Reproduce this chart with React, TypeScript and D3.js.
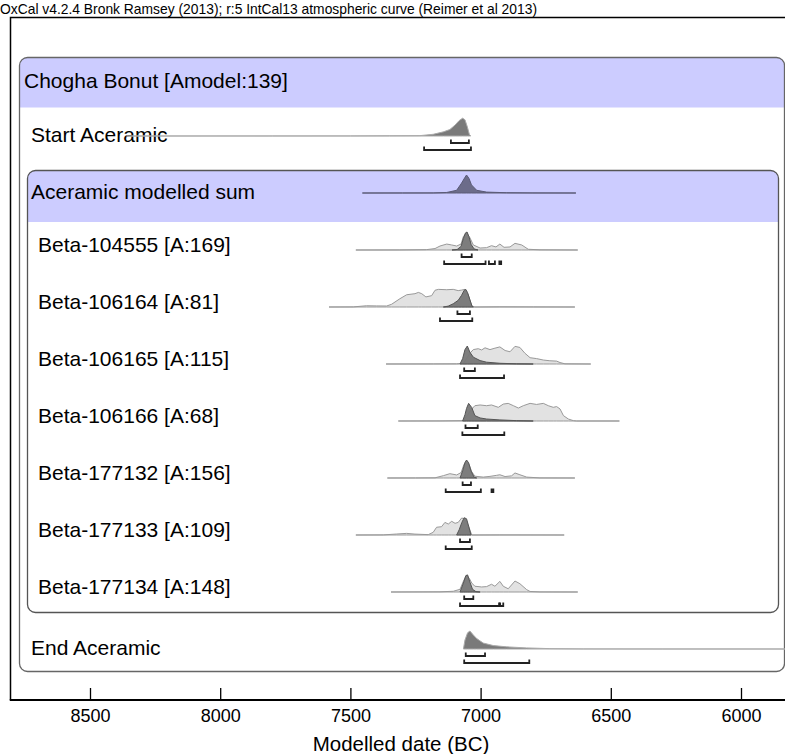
import React, { useRef, useEffect } from 'react';
import * as d3 from 'd3';

// header / axis text
const headerText = 'OxCal v4.2.4 Bronk Ramsey (2013); r:5 IntCal13 atmospheric curve (Reimer et al 2013)';
const axisTitle = 'Modelled date (BC)';
const tickValues = [8500, 8000, 7500, 7000, 6500, 6000];

// [year BC, relative density]
const startAceramic = [[8360, 0], [7800, 0.003], [7500, 0.006], [7350, 0.012], [7233, 0.02], [7182, 0.095], [7143, 0.23], [7118, 0.36], [7098, 0.61], [7082, 0.86], [7069, 0.99], [7060, 0.9], [7051, 0.51], [7043, 0.08], [7038, 0]];
const aceramicSum = [[7454, 0], [7300, 0.002], [7182, 0.005], [7130, 0.03], [7092, 0.15], [7073, 0.55], [7060, 0.87], [7054, 1], [7045, 0.82], [7035, 0.45], [7015, 0.15], [6977, 0.05], [6900, 0.015], [6799, 0.005], [6634, 0]];

const beta104555Like = [[7479, 0], [7310, 0.003], [7207, 0.02], [7175, 0.08], [7156, 0.22], [7130, 0.33], [7111, 0.28], [7092, 0.22], [7075, 0.33], [7066, 0.75], [7054, 0.96], [7041, 0.68], [7028, 0.28], [7002, 0.11], [6977, 0.13], [6958, 0.24], [6941, 0.17], [6926, 0.33], [6910, 0.15], [6887, 0.17], [6868, 0.37], [6842, 0.28], [6817, 0.04], [6772, 0.01], [6627, 0]];
const beta104555Post = [[7110, 0], [7090, 0.03], [7075, 0.2], [7066, 0.65], [7058, 0.95], [7052, 1], [7045, 0.75], [7036, 0.3], [7025, 0.06], [7010, 0]];

const beta106164Like = [[7582, 0], [7489, 0.005], [7438, 0.07], [7399, 0.06], [7361, 0.055], [7342, 0.15], [7310, 0.46], [7284, 0.68], [7252, 0.74], [7239, 0.81], [7226, 0.74], [7210, 0.56], [7188, 0.63], [7175, 0.93], [7162, 0.98], [7130, 0.96], [7105, 0.98], [7086, 0.91], [7073, 0.94], [7060, 0.98], [7047, 0.65], [7034, 0.06], [7022, 0], [6926, 0.01], [6798, 0.005], [6638, 0]];
const beta106164Post = [[7143, 0], [7124, 0.05], [7105, 0.18], [7086, 0.37], [7073, 0.65], [7063, 0.93], [7057, 0.98], [7050, 0.8], [7041, 0.4], [7033, 0.05], [7028, 0]];

const beta106165Like = [[7363, 0], [7182, 0.005], [7092, 0.01], [7066, 0.04], [7054, 0.3], [7041, 0.6], [7028, 0.8], [7009, 0.85], [6996, 0.78], [6983, 0.9], [6964, 0.8], [6945, 0.88], [6926, 0.95], [6906, 0.75], [6887, 0.68], [6868, 0.98], [6849, 0.92], [6830, 0.6], [6810, 0.35], [6785, 0.3], [6759, 0.22], [6734, 0.18], [6708, 0.16], [6695, 0.08], [6676, 0.01], [6577, 0]];
const beta106165Post = [[7079, 0], [7069, 0.3], [7060, 0.8], [7051, 1], [7041, 0.65], [7028, 0.38], [7002, 0.19], [6977, 0.1], [6926, 0.04], [6862, 0.01], [6798, 0]];

const beta106166Like = [[7316, 0], [7156, 0.005], [7066, 0.02], [7054, 0.25], [7038, 0.6], [7022, 0.85], [7002, 0.89], [6977, 0.85], [6958, 0.89], [6932, 0.76], [6913, 0.94], [6894, 0.98], [6874, 0.85], [6855, 0.72], [6836, 0.85], [6810, 0.98], [6785, 0.92], [6759, 0.98], [6740, 0.85], [6721, 0.76], [6708, 0.8], [6695, 0.67], [6682, 0.3], [6663, 0.11], [6644, 0.02], [6631, 0], [6467, 0]];
const beta106166Post = [[7069, 0], [7060, 0.35], [7054, 0.7], [7046, 0.98], [7034, 0.75], [7022, 0.3], [7002, 0.17], [6977, 0.11], [6926, 0.06], [6862, 0.02], [6798, 0]];

const beta177132Like = [[7358, 0], [7250, 0.003], [7175, 0.01], [7143, 0.13], [7118, 0.24], [7092, 0.17], [7075, 0.3], [7064, 0.75], [7054, 0.98], [7043, 0.7], [7034, 0.35], [7022, 0.1], [6990, 0.05], [6964, 0.09], [6938, 0.15], [6926, 0.18], [6906, 0.08], [6881, 0.12], [6868, 0.28], [6849, 0.18], [6823, 0.05], [6772, 0.005], [6638, 0]];
const beta177132Post = [[7079, 0], [7069, 0.4], [7060, 0.85], [7054, 1], [7046, 0.85], [7037, 0.4], [7025, 0.05], [7015, 0]];

const beta177133Like = [[7479, 0], [7374, 0.005], [7322, 0.055], [7284, 0.09], [7252, 0.05], [7201, 0.02], [7182, 0.15], [7169, 0.43], [7150, 0.46], [7137, 0.7], [7124, 0.61], [7111, 0.76], [7098, 0.65], [7086, 0.7], [7073, 0.94], [7064, 0.92], [7054, 0.7], [7043, 0.35], [7034, 0], [6926, 0.005], [6679, 0]];
const beta177133Post = [[7092, 0], [7082, 0.3], [7072, 0.7], [7063, 0.96], [7054, 0.9], [7045, 0.45], [7037, 0]];

const beta177134Like = [[7344, 0], [7156, 0.01], [7105, 0.04], [7079, 0.15], [7066, 0.6], [7054, 0.95], [7043, 0.75], [7034, 0.5], [7022, 0.32], [6996, 0.28], [6977, 0.3], [6958, 0.43], [6945, 0.32], [6926, 0.59], [6913, 0.32], [6894, 0.18], [6868, 0.61], [6849, 0.46], [6823, 0.13], [6810, 0.03], [6772, 0.005], [6627, 0]];
const beta177134Post = [[7079, 0], [7066, 0.5], [7057, 0.9], [7050, 0.95], [7041, 0.55], [7031, 0.15], [7018, 0.02], [7002, 0]];

const endAceramic = [[7066, 0], [7060, 0.5], [7050, 0.9], [7041, 1], [7028, 0.78], [7015, 0.58], [6990, 0.33], [6951, 0.19], [6900, 0.12], [6823, 0.06], [6734, 0.02], [6606, 0.005], [6300, 0.001], [5700, 0]];

// highest posterior density ranges [from, to]
const start68 = [[7114, 7045]];
const start95 = [[7217, 7037]];
const beta104555_68 = [[7073, 7034]];
const beta104555_95 = [[7140, 6981], [6968, 6945], [6928, 6921]];
const beta106164_68 = [[7089, 7041]];
const beta106164_95 = [[7156, 7032]];
const beta106165_68 = [[7063, 7022]];
const beta106165_95 = [[7079, 6910]];
const beta106166_68 = [[7058, 7011]];
const beta106166_95 = [[7070, 6909]];
const beta177132_68 = [[7069, 7037]];
const beta177132_95 = [[7134, 6999], [6958, 6951]];
const beta177133_68 = [[7079, 7041]];
const beta177133_95 = [[7134, 7034]];
const beta177134_68 = [[7063, 7028]];
const beta177134_95 = [[7079, 6929], [6925, 6913]];
const end68 = [[7057, 6983]];
const end95 = [[7063, 6813]];

const rows = [
    { label: 'Start Aceramic', kind: 'boundary', post: startAceramic, r68: start68, r95: start95 },
    { label: 'Aceramic modelled sum', kind: 'sum', post: aceramicSum, r68: [], r95: [] },
    { label: 'Beta-104555 [A:169]', kind: 'date', like: beta104555Like, post: beta104555Post, r68: beta104555_68, r95: beta104555_95 },
    { label: 'Beta-106164 [A:81]', kind: 'date', like: beta106164Like, post: beta106164Post, r68: beta106164_68, r95: beta106164_95 },
    { label: 'Beta-106165 [A:115]', kind: 'date', like: beta106165Like, post: beta106165Post, r68: beta106165_68, r95: beta106165_95 },
    { label: 'Beta-106166 [A:68]', kind: 'date', like: beta106166Like, post: beta106166Post, r68: beta106166_68, r95: beta106166_95 },
    { label: 'Beta-177132 [A:156]', kind: 'date', like: beta177132Like, post: beta177132Post, r68: beta177132_68, r95: beta177132_95 },
    { label: 'Beta-177133 [A:109]', kind: 'date', like: beta177133Like, post: beta177133Post, r68: beta177133_68, r95: beta177133_95 },
    { label: 'Beta-177134 [A:148]', kind: 'date', like: beta177134Like, post: beta177134Post, r68: beta177134_68, r95: beta177134_95 },
    { label: 'End Aceramic', kind: 'boundary', post: endAceramic, r68: end68, r95: end95 },
];
const groupLabel = 'Chogha Bonut [Amodel:139]';

const FONT = 'Liberation Sans, Arial, sans-serif';

function topRounded(x: number, y: number, w: number, h: number, r: number) {
    return `M${x},${y + h}V${y + r}Q${x},${y} ${x + r},${y}H${x + w - r}Q${x + w},${y} ${x + w},${y + r}V${y + h}Z`;
}

export default function App() {
    const svgRef = useRef<SVGSVGElement>(null);

    useEffect(() => {
        const width = 785;
        const height = 754;
        const frame = { left: 10.5, top: 17.5, bottom: 700 };

        const svg = d3.select(svgRef.current)
            .attr('width', width)
            .attr('height', height)
            .attr('viewBox', [0, 0, width, height].join(' '));
        svg.selectAll('*').remove();

        const x = d3.scaleLinear().domain([8500, 6000]).range([90, 741]);
        const rowY = d3.scaleLinear().domain([0, 9]).range([136, 649]);
        const dens = d3.scaleLinear().domain([0, 1]).range([0, 18]);

        svg.append('text')
            .attr('x', 0).attr('y', 13.5)
            .attr('font-family', FONT).attr('font-size', 15)
            .attr('textLength', 537).attr('lengthAdjust', 'spacingAndGlyphs')
            .text(headerText);

        // outer group box
        const outer = { x: 19.5, y: 57.5, w: 765, h: 614 };
        svg.append('rect').attr('x', outer.x).attr('y', outer.y).attr('width', outer.w).attr('height', outer.h)
            .attr('rx', 8).attr('fill', '#fff');
        svg.append('path').attr('d', topRounded(outer.x, outer.y, outer.w, 50, 8)).attr('fill', '#ccccff');
        svg.append('rect').attr('x', outer.x).attr('y', outer.y).attr('width', outer.w).attr('height', outer.h)
            .attr('rx', 8).attr('fill', 'none').attr('stroke', '#666').attr('stroke-width', 1.3);

        // inner sum box
        const inner = { x: 27.5, y: 170.5, w: 751, h: 442 };
        svg.append('path').attr('d', topRounded(inner.x, inner.y, inner.w, 51.5, 8)).attr('fill', '#ccccff');
        svg.append('rect').attr('x', inner.x).attr('y', inner.y).attr('width', inner.w).attr('height', inner.h)
            .attr('rx', 8).attr('fill', 'none').attr('stroke', '#555').attr('stroke-width', 1.3);

        svg.append('text')
            .attr('x', 24).attr('y', 88)
            .attr('font-family', FONT).attr('font-size', 21)
            .text(groupLabel);

        rows.forEach((row, i) => {
            const base = rowY(i);
            const area = d3.area<number[]>()
                .x(d => x(d[0]))
                .y0(base)
                .y1(d => base - dens(d[1]));

            const g = svg.append('g');
            const labelX = row.kind === 'date' ? 38 : 31;
            const labelY = row.kind === 'date' ? base + 2 : base + 6;
            g.append('text')
                .attr('x', labelX).attr('y', labelY)
                .attr('font-family', FONT).attr('font-size', 21)
                .text(row.label);

            if (row.like) {
                g.append('path').attr('d', area(row.like))
                    .attr('fill', '#e2e2e2').attr('stroke', '#999').attr('stroke-width', 1);
            }
            if (row.kind === 'sum') {
                g.append('path').attr('d', area(row.post))
                    .attr('fill', '#6c6c8a').attr('stroke', '#5a5a76').attr('stroke-width', 1);
            } else if (row.kind === 'boundary') {
                g.append('path').attr('d', area(row.post))
                    .attr('fill', '#7a7a7a').attr('stroke', '#aaa').attr('stroke-width', 1);
            } else {
                g.append('path').attr('d', area(row.post))
                    .attr('fill', '#777').attr('stroke', '#555').attr('stroke-width', 1)
                    .attr('fill-opacity', 0.95);
            }

            const bracket = (r: number[], y: number) =>
                `M${x(r[0])},${y - 3.5}V${y}H${x(r[1])}V${y - 3.5}`;
            row.r68.forEach(r => {
                g.append('path').attr('d', bracket(r, base + 7)).attr('fill', 'none')
                    .attr('stroke', '#222').attr('stroke-width', 1.8);
            });
            row.r95.forEach(r => {
                g.append('path').attr('d', bracket(r, base + 14)).attr('fill', 'none')
                    .attr('stroke', '#222').attr('stroke-width', 1.8);
            });
        });

        // plot frame
        svg.append('path')
            .attr('d', `M${frame.left},${frame.bottom}V${frame.top}H${width}`)
            .attr('fill', 'none').attr('stroke', '#000').attr('stroke-width', 1.5);
        svg.append('line')
            .attr('x1', frame.left - 0.75).attr('x2', width)
            .attr('y1', frame.bottom).attr('y2', frame.bottom)
            .attr('stroke', '#000').attr('stroke-width', 2);

        const axis = svg.append('g')
            .attr('transform', `translate(0, ${frame.bottom})`)
            .call(d3.axisBottom(x).tickValues(tickValues).tickSizeInner(-12).tickSizeOuter(0)
                .tickPadding(9).tickFormat(d3.format('d')));
        axis.select('.domain').remove();
        axis.selectAll('line').attr('stroke', '#000').attr('stroke-width', 1.3);
        axis.selectAll('text').attr('font-family', FONT).attr('font-size', 18).attr('fill', '#000');

        svg.append('text')
            .attr('x', 401).attr('y', 751)
            .attr('text-anchor', 'middle')
            .attr('font-family', FONT).attr('font-size', 20.5)
            .text(axisTitle);
    }, []);

    return (
        <div style={{ position: 'absolute', left: 0, top: 0 }}>
            <svg ref={svgRef} style={{ display: 'block' }}></svg>
        </div>
    );
}
